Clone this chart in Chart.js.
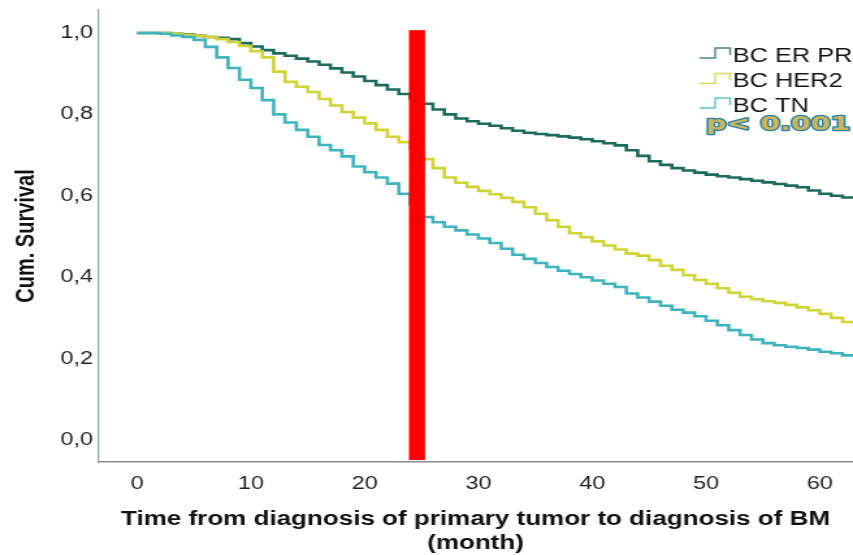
<!DOCTYPE html>
<html>
<head>
<meta charset="utf-8">
<script src="https://cdn.jsdelivr.net/npm/chart.js@4/dist/chart.umd.min.js"></script>
<style>
  html, body { margin: 0; padding: 0; background: #fff; overflow: hidden; }
  /* the plot is laid out narrow and widened, so glyphs come out broad */
  #wrap { width: 656px; height: 555px; transform: scaleX(1.3003); transform-origin: 0 0; }
  canvas { display: block; }
</style>
</head>
<body>
<div id="wrap"><canvas id="km" width="656" height="555"></canvas></div>
<script>
const months = [0, 1, 2, 3, 4, 5, 6, 7, 8, 9, 10, 11, 12, 13, 14, 15, 16, 17, 18, 19,
  20, 21, 22, 23, 24, 25, 26, 27, 28, 29, 30, 31, 32, 33, 34, 35, 36, 37, 38, 39,
  40, 41, 42, 43, 44, 45, 46, 47, 48, 49, 50, 51, 52, 53, 54, 55, 56, 57, 58, 59,
  60, 61, 62, 63];

const survErPr = [1.0, 1.0, 1.0, 0.998, 0.996, 0.993, 0.99, 0.988, 0.985, 0.975,
  0.967, 0.958, 0.95, 0.944, 0.937, 0.93, 0.922, 0.913, 0.903, 0.893,
  0.882, 0.872, 0.861, 0.85, 0.84, 0.826, 0.812, 0.8, 0.79, 0.783,
  0.777, 0.772, 0.766, 0.76, 0.755, 0.752, 0.749, 0.746, 0.743, 0.739,
  0.734, 0.729, 0.724, 0.712, 0.698, 0.685, 0.676, 0.668, 0.662, 0.657,
  0.652, 0.648, 0.645, 0.641, 0.637, 0.633, 0.629, 0.625, 0.621, 0.613,
  0.605, 0.6, 0.596, 0.594];

const survHer2 = [1.0, 1.0, 1.0, 0.998, 0.995, 0.993, 0.99, 0.985, 0.978, 0.968,
  0.955, 0.94, 0.905, 0.88, 0.868, 0.855, 0.838, 0.822, 0.806, 0.792,
  0.778, 0.762, 0.745, 0.732, 0.715, 0.69, 0.668, 0.645, 0.632, 0.622,
  0.612, 0.604, 0.595, 0.585, 0.572, 0.556, 0.54, 0.524, 0.508, 0.498,
  0.488, 0.478, 0.468, 0.458, 0.453, 0.442, 0.428, 0.418, 0.405, 0.393,
  0.384, 0.373, 0.362, 0.352, 0.346, 0.341, 0.337, 0.332, 0.326, 0.319,
  0.31, 0.3, 0.29, 0.283];

const survTn = [1.0, 1.0, 0.998, 0.994, 0.99, 0.983, 0.966, 0.94, 0.914, 0.885,
  0.865, 0.835, 0.8, 0.78, 0.762, 0.745, 0.725, 0.712, 0.697, 0.672,
  0.658, 0.645, 0.63, 0.605, 0.58, 0.548, 0.535, 0.524, 0.515, 0.505,
  0.495, 0.484, 0.47, 0.455, 0.445, 0.435, 0.425, 0.416, 0.408, 0.4,
  0.392, 0.384, 0.376, 0.36, 0.35, 0.34, 0.33, 0.32, 0.313, 0.304,
  0.293, 0.282, 0.27, 0.258, 0.247, 0.238, 0.233, 0.229, 0.226, 0.222,
  0.217, 0.213, 0.208, 0.203];

const groupNames = ["BC ER PR", "BC HER2", "BC TN"];
const xTicks = [0, 10, 20, 30, 40, 50, 60];
const yTicks = [0, 0.2, 0.4, 0.6, 0.8, 1.0];
const pText = "p< 0.001";
// vertical marker at this time point, spanning these survival values
const markerMonth = 24.6;
const markerSpan = [-0.049, 1.007];

const colors = ["#1d6b5d", "#d2d336", "#3fb4be"];
const FONT = '"Liberation Sans", Arial, sans-serif';

const toPoints = vals => months.map((m, i) => ({ x: m, y: vals[i] }));

// keep the plot area exactly where the axes are sized, no label padding
const noPad = s => {
  s.paddingTop = 0;
  s.paddingBottom = 0;
  s.paddingLeft = 0;
  s.paddingRight = 0;
};

const overlay = {
  id: "overlay",
  afterDatasetsDraw(chart) {
    const { ctx, scales: { x, y } } = chart;
    const cx = x.getPixelForValue(markerMonth);
    const top = y.getPixelForValue(markerSpan[1]);
    const bottom = y.getPixelForValue(markerSpan[0]);
    ctx.save();
    ctx.fillStyle = "#ff0000";
    ctx.fillRect(cx - 6.2, top, 12.4, bottom - top);
    ctx.restore();
  },
  afterDraw(chart) {
    const { ctx } = chart;
    ctx.save();
    // legend: step glyph + group name
    const rows = [54, 79.5, 104];
    ctx.font = "19.5px " + FONT;
    ctx.textBaseline = "alphabetic";
    ctx.textAlign = "left";
    rows.forEach((cy, i) => {
      ctx.strokeStyle = colors[i];
      ctx.globalAlpha = 0.8;
      ctx.lineWidth = 1.4;
      ctx.beginPath();
      ctx.moveTo(538, cy + 4);
      ctx.lineTo(550, cy + 4);
      ctx.lineTo(550, cy - 6);
      ctx.lineTo(561.5, cy - 6);
      ctx.lineTo(561.5, cy + 1);
      ctx.stroke();
      ctx.globalAlpha = 1;
      ctx.fillStyle = "#161616";
      ctx.fillText(groupNames[i], 563.5, cy + 7.5);
    });

    // log-rank p value, outlined
    ctx.font = "bold 19px 'DejaVu Sans', sans-serif";
    const w = ctx.measureText(pText).width;
    ctx.translate(543, 130);
    ctx.scale(111 / w, 1);
    ctx.lineJoin = "round";
    ctx.lineWidth = 2.6;
    ctx.strokeStyle = "#2b82a6";
    ctx.strokeText(pText, 0, 0);
    ctx.fillStyle = "#cdb660";
    ctx.fillText(pText, 0, 0);
    ctx.restore();
  }
};

new Chart(document.getElementById("km"), {
  type: "line",
  data: {
    datasets: [
      { label: groupNames[0], data: toPoints(survErPr), borderColor: colors[0] },
      { label: groupNames[1], data: toPoints(survHer2), borderColor: colors[1] },
      { label: groupNames[2], data: toPoints(survTn), borderColor: colors[2] }
    ].map(ds => Object.assign(ds, {
      stepped: true,
      borderWidth: 2.6,
      pointRadius: 0,
      fill: false
    })).reverse()
  },
  options: {
    responsive: false,
    animation: false,
    events: [],
    layout: { padding: { top: 10, left: 0, right: 0, bottom: 0 } },
    plugins: {
      legend: { display: false },
      tooltip: { enabled: false }
    },
    scales: {
      x: {
        type: "linear",
        min: -3.43,
        max: 62.92,
        afterBuildTicks: s => { s.ticks = xTicks.map(v => ({ value: v })); },
        afterFit: s => { s.height = 93; noPad(s); },
        grid: { display: false, drawTicks: false },
        border: { display: true, color: "#8a8a8a", width: 1.5 },
        ticks: {
          color: "#1f1f1f",
          font: { family: FONT, size: 18 },
          padding: 11,
          maxRotation: 0,
          autoSkip: false
        },
        title: {
          display: true,
          text: ["Time from diagnosis of primary tumor to diagnosis of BM", "(month)"],
          color: "#111",
          font: { family: FONT, size: 20, weight: "bold", lineHeight: 1.2 },
          padding: { top: 0, bottom: 0 }
        }
      },
      y: {
        type: "linear",
        min: -0.054,
        max: 1.0565,
        afterBuildTicks: s => { s.ticks = yTicks.map(v => ({ value: v })); },
        afterFit: s => { s.width = 75.4; noPad(s); },
        grid: { display: false, drawTicks: false },
        border: { display: true, color: "#93a0a6", width: 1.3 },
        ticks: {
          color: "#1f1f1f",
          font: { family: FONT, size: 18 },
          padding: 4,
          callback: v => v.toFixed(1).replace(".", ",")
        },
        title: {
          display: true,
          text: "Cum. Survival",
          color: "#111",
          font: { family: FONT, size: 20, weight: "bold" },
          padding: { top: 8.5, bottom: 0 }
        }
      }
    }
  },
  plugins: [overlay]
});
</script>
</body>
</html>
